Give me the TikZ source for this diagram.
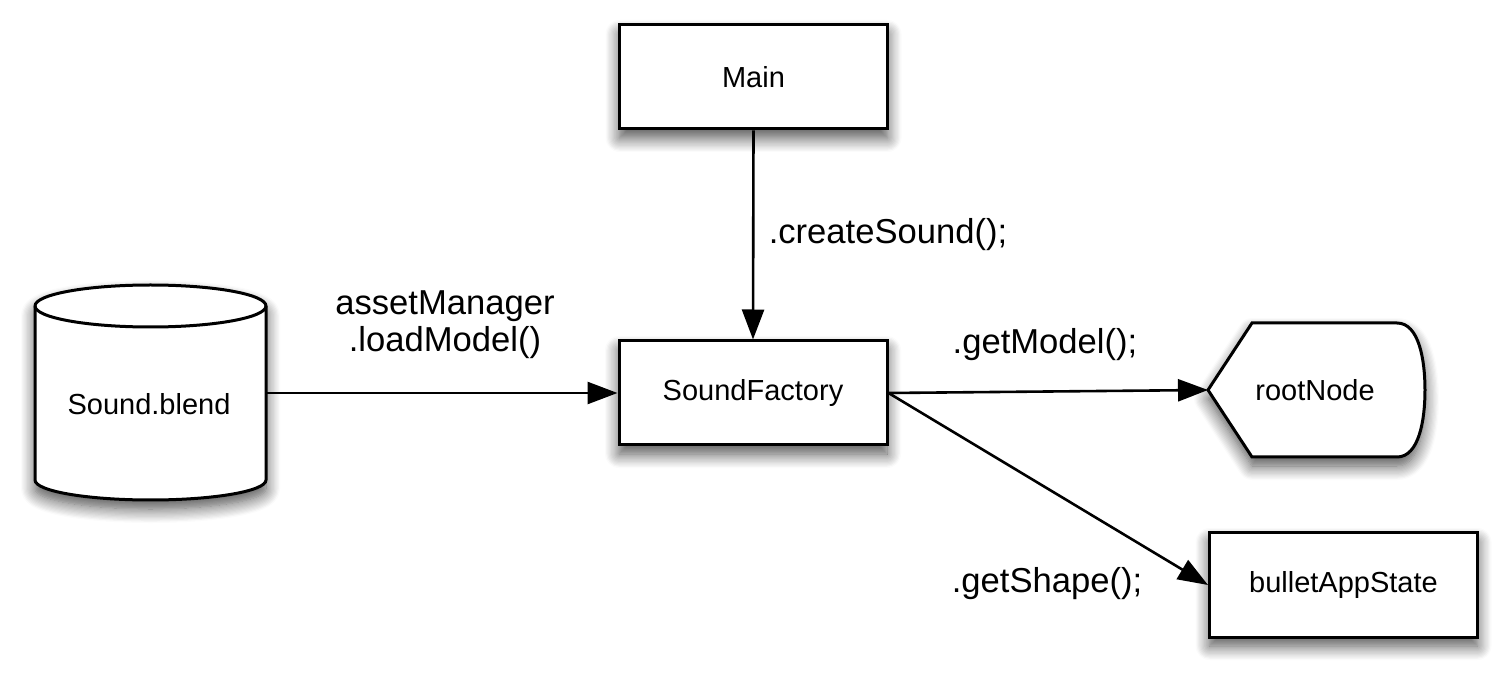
\documentclass[tikz,border=0pt]{standalone}
\usepackage{fontspec}
\setmainfont{Liberation Sans}
\usetikzlibrary{arrows.meta,shadows.blur}
\begin{document}
\begin{tikzpicture}[x=0.5pt,y=-0.5pt,
  shad/.style={blur shadow={shadow blur radius=7pt, shadow xshift=0pt, shadow yshift=-4.5pt, shadow opacity=70, shadow blur steps=12}},
  box/.style={draw=black, line width=1.5pt, fill=white, minimum width=134pt, minimum height=52pt, inner sep=0pt, font=\fontsize{14.5}{17}\selectfont, shad},
  plain/.style={inner sep=0pt, font=\fontsize{14.5}{17}\selectfont},
  lbl/.style={inner sep=0pt, font=\fontsize{17.3}{18.5}\selectfont, align=center},
  conn/.style={line width=1.3pt, draw=black, -{Triangle[length=15pt,width=11pt,fill=black]}}
]
\useasboundingbox (0,0) rectangle (1512,684);

% Cylinder
\draw[line width=1.5pt, fill=white, shad]
  (35,306) -- (35,480) arc[start angle=180, end angle=360, x radius=57.75pt, y radius=10pt]
  -- (266,306) arc[start angle=0, end angle=180, x radius=57.75pt, y radius=10.5pt] -- cycle;
\draw[line width=1.5pt] (35,306) arc[start angle=180, end angle=360, x radius=57.75pt, y radius=10.5pt];
\node[plain, minimum width=115.5pt, minimum height=80pt] (blend) at (149,404) {Sound.blend};
\coordinate (blendout) at (266,393);

% rootNode display shape
\draw[line width=1.5pt, fill=white, shad]
  (1208,390) -- (1252,323) -- (1397,323)
  .. controls (1419,323) and (1425,360) .. (1425,390)
  .. controls (1425,420) and (1419,457) .. (1397,457)
  -- (1252,457) -- cycle;
\node[plain] (rootlbl) at (1315,390) {rootNode};
\coordinate (root) at (1208,390);

% Boxes
\node[box] (main) at (753.5,77) {Main};
\node[box] (sf) at (753,393) {SoundFactory};
\node[box] (bas) at (1343.5,585) {bulletAppState};

% Connectors
\draw[conn] (main.south) -- (sf.north);
\draw[conn] (blendout) -- (sf.west);
\draw[conn] (sf.east) -- (root);
\draw[conn] (sf.east) -- (bas.west);

% Labels
\node[lbl] (l1) at (888,235) {.createSound();};
\node[lbl] (l2) at (445,325) {assetManager\\.loadModel()};
\node[lbl] (l3) at (1045,345) {.getModel();};
\node[lbl] (l4) at (1047,584) {.getShape();};
\end{tikzpicture}
\end{document}
